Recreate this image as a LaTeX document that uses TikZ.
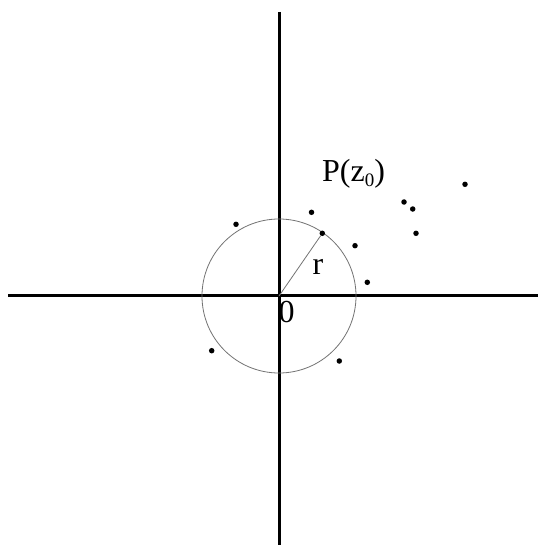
\documentclass[tikz,border=0pt]{standalone}
\usepackage{fontspec}
\setmainfont{Liberation Serif}
\begin{document}
\begin{tikzpicture}[x=1pt,y=-1pt,
  axis/.style={line width=3pt,line cap=butt},
  thin/.style={line width=0.8pt,black!55},
  dot/.style={circle,fill=black,inner sep=0pt,minimum size=5.5pt},
  lbl/.style={inner sep=0pt,anchor=base,font=\fontsize{32}{32}\selectfont}]
\useasboundingbox (0,0) rectangle (538,545);
\coordinate (xl) at (8,295);
\coordinate (xr) at (538,295);
\coordinate (yt) at (279,12);
\coordinate (yb) at (279,545);
\coordinate (o) at (279,296);
\draw[axis] (xl) -- (xr);
\draw[axis] (yt) -- (yb);
\draw[thin] (o) circle[radius=77];
\node[dot] (p0) at (322.3,233.3) {};
\draw[thin] (o) -- (p0);
\node[dot] (p1) at (236,224.3) {};
\node[dot] (p2) at (311.5,212.3) {};
\node[dot] (p3) at (355,245.7) {};
\node[dot] (p4) at (367.3,282.3) {};
\node[dot] (p5) at (211.7,350.7) {};
\node[dot] (p6) at (339.3,361) {};
\node[dot] (p7) at (404,202) {};
\node[dot] (p8) at (412.7,209) {};
\node[dot] (p9) at (416,233.3) {};
\node[dot] (p10) at (465,184.3) {};
\node[lbl,anchor=base west] (P) at (322,182) {P(z\raisebox{-5pt}{\fontsize{19}{19}\selectfont 0})};
\node[lbl] (r) at (318,274) {r};
\node[lbl] (zero) at (286.5,322) {0};
\end{tikzpicture}
\end{document}
